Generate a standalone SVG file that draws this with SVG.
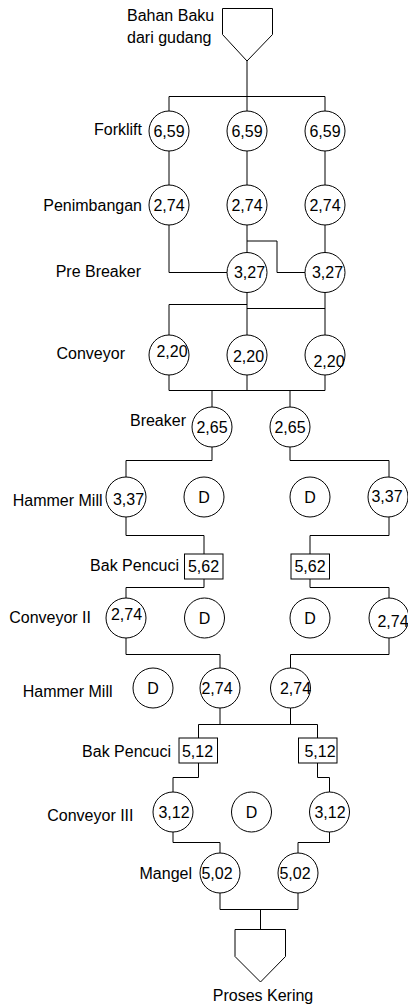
<svg xmlns="http://www.w3.org/2000/svg" width="408" height="1005" viewBox="0 0 408 1005">
  <style>
    .lbl { font-family: "Liberation Sans", Arial, sans-serif; font-size: 16px; fill: #000; }
    .num { font-family: "Liberation Sans", Arial, sans-serif; font-size: 16px; fill: #000; text-anchor: middle; }
    .end { text-anchor: end; }
    .mid { text-anchor: middle; }
    .shape { fill: #fff; stroke: #000; stroke-width: 1; }
    .wire { fill: none; stroke: #000; stroke-width: 1; }
  </style>
  <rect width="408" height="1005" fill="#fff"/>

  <!-- connectors -->
  <g id="connectors" class="wire">
    <!-- source to forklifts -->
    <path d="M247 61 V96.5 M169 96.5 H325 M169 96.5 V111 M247 96.5 V111 M325 96.5 V111"/>
    <!-- forklift to penimbangan -->
    <path d="M169 151 V185 M247 151 V185 M325 151 V185"/>
    <!-- penimbangan to pre breaker -->
    <path d="M169 225 V272.5 H227"/>
    <path d="M247 225 V252.5"/>
    <path d="M247 241 H277 V272.5 H305"/>
    <path d="M325 225 V252.5"/>
    <!-- pre breaker to conveyor -->
    <path d="M247 292.5 V335 M169 304.5 H247 M169 304.5 V335"/>
    <path d="M325 292.5 V335 M247 308.5 H325"/>
    <!-- conveyor to breaker -->
    <path d="M169 375 V390.5 H325 V375 M247 375 V390.5 M212 390.5 V407 M290 390.5 V407"/>
    <!-- breaker to hammer mill -->
    <path d="M212 447 V460.5 H126 V477"/>
    <path d="M290 447 V460.5 H389 V477"/>
    <!-- hammer mill to bak pencuci -->
    <path d="M126 517 V535.5 H204 V554"/>
    <path d="M389 517 V535.5 H310 V554"/>
    <!-- bak pencuci to conveyor II -->
    <path d="M204 579 V587.5 H126 V598"/>
    <path d="M310 579 V587.5 H389 V598"/>
    <!-- conveyor II to hammer mill -->
    <path d="M126 638 V654.5 H220 V668"/>
    <path d="M389 638 V654.5 H290.5 V668"/>
    <!-- hammer mill to bak pencuci -->
    <path d="M220 708 V724.5 M290.5 708 V724.5 M198.5 724.5 H317.5 M198.5 724.5 V738 M317.5 724.5 V738"/>
    <!-- bak pencuci to conveyor III -->
    <path d="M198.5 763 V777.5 H173 V792"/>
    <path d="M317.5 763 V777.5 H329.5 V792"/>
    <!-- conveyor III to mangel -->
    <path d="M173 832 V842.5 H220 V853"/>
    <path d="M329.5 832 V842.5 H298 V853"/>
    <!-- mangel to output -->
    <path d="M220 893 V909.5 H298 V893 M260.5 909.5 V929.5"/>
  </g>

  <!-- source and sink -->
  <g id="bahan-baku">
    <polygon class="shape" points="222.5,8.5 272.5,8.5 272.5,34.5 247,61 222.5,34.5"/>
    <text class="lbl" x="127" y="21">Bahan Baku</text>
    <text class="lbl" x="127" y="42.5">dari gudang</text>
  </g>
  <g id="proses-kering">
    <polygon class="shape" points="235,929.5 285.5,929.5 285.5,956.5 260.5,982 235,956.5"/>
    <text class="lbl mid" x="263" y="1001">Proses Kering</text>
  </g>

  <!-- forklift row -->
  <g id="forklift">
    <text class="lbl end" x="142" y="134.5">Forklift</text>
    <circle class="shape" cx="169" cy="131" r="20"/><text class="num" x="169" y="136.5">6,59</text>
    <circle class="shape" cx="247" cy="131" r="20"/><text class="num" x="247" y="136.5">6,59</text>
    <circle class="shape" cx="325" cy="131" r="20"/><text class="num" x="325" y="136.5">6,59</text>
  </g>

  <!-- penimbangan row -->
  <g id="penimbangan">
    <text class="lbl end" x="142" y="211">Penimbangan</text>
    <circle class="shape" cx="169" cy="205" r="20"/><text class="num" x="169" y="211">2,74</text>
    <circle class="shape" cx="247" cy="205" r="20"/><text class="num" x="247" y="211">2,74</text>
    <circle class="shape" cx="325" cy="205" r="20"/><text class="num" x="325" y="211">2,74</text>
  </g>

  <!-- pre breaker row -->
  <g id="pre-breaker">
    <text class="lbl end" x="141" y="277">Pre Breaker</text>
    <circle class="shape" cx="247" cy="272.5" r="20"/><text class="num" x="249.5" y="277.5">3,27</text>
    <circle class="shape" cx="325" cy="272.5" r="20"/><text class="num" x="327.5" y="277.5">3,27</text>
  </g>

  <!-- conveyor row -->
  <g id="conveyor">
    <text class="lbl end" x="125" y="359">Conveyor</text>
    <circle class="shape" cx="169" cy="355" r="20"/><text class="num" x="172" y="356.5">2,20</text>
    <circle class="shape" cx="247" cy="355" r="20"/><text class="num" x="248.5" y="362">2,20</text>
    <circle class="shape" cx="325" cy="355" r="20"/><text class="num" x="329" y="366.5">2,20</text>
  </g>

  <!-- breaker row -->
  <g id="breaker">
    <text class="lbl end" x="186" y="426">Breaker</text>
    <circle class="shape" cx="212" cy="427" r="20"/><text class="num" x="212" y="433">2,65</text>
    <circle class="shape" cx="290" cy="427" r="20"/><text class="num" x="290" y="433">2,65</text>
  </g>

  <!-- hammer mill row -->
  <g id="hammer-mill-1">
    <text class="lbl end" x="102.5" y="506">Hammer Mill</text>
    <circle class="shape" cx="126" cy="497" r="20"/><text class="num" x="128.5" y="505">3,37</text>
    <circle class="shape" cx="204" cy="497" r="20"/><text class="num" x="204" y="503">D</text>
    <circle class="shape" cx="310" cy="497" r="20"/><text class="num" x="310" y="503">D</text>
    <circle class="shape" cx="388" cy="497" r="20"/><text class="num" x="387" y="502">3,37</text>
  </g>

  <!-- bak pencuci row -->
  <g id="bak-pencuci-1">
    <text class="lbl end" x="179" y="571">Bak Pencuci</text>
    <rect class="shape" x="184.5" y="554" width="38.5" height="25"/><text class="num" x="203.5" y="571.5">5,62</text>
    <rect class="shape" x="291" y="554" width="38.5" height="25"/><text class="num" x="310" y="571.5">5,62</text>
  </g>

  <!-- conveyor II row -->
  <g id="conveyor-2">
    <text class="lbl end" x="91" y="622.5">Conveyor II</text>
    <circle class="shape" cx="126" cy="618" r="20"/><text class="num" x="126.5" y="620">2,74</text>
    <circle class="shape" cx="204.5" cy="618" r="20"/><text class="num" x="204.5" y="624">D</text>
    <circle class="shape" cx="310" cy="618" r="20"/><text class="num" x="310" y="624">D</text>
    <circle class="shape" cx="389" cy="618" r="20"/><text class="num" x="393" y="627">2,74</text>
  </g>

  <!-- hammer mill row II -->
  <g id="hammer-mill-2">
    <text class="lbl end" x="112.5" y="697">Hammer Mill</text>
    <circle class="shape" cx="153" cy="688" r="20"/><text class="num" x="153" y="694">D</text>
    <circle class="shape" cx="220" cy="688" r="20"/><text class="num" x="217" y="694">2,74</text>
    <circle class="shape" cx="290.5" cy="688" r="20"/><text class="num" x="295.5" y="694">2,74</text>
  </g>

  <!-- bak pencuci row II -->
  <g id="bak-pencuci-2">
    <text class="lbl end" x="171" y="756.5">Bak Pencuci</text>
    <rect class="shape" x="179" y="738" width="38.5" height="25"/><text class="num" x="197.5" y="757">5,12</text>
    <rect class="shape" x="298.5" y="738" width="38.5" height="25"/><text class="num" x="320" y="757">5,12</text>
  </g>

  <!-- conveyor III row -->
  <g id="conveyor-3">
    <text class="lbl end" x="133.5" y="821">Conveyor III</text>
    <circle class="shape" cx="173" cy="812" r="20"/><text class="num" x="174" y="818">3,12</text>
    <circle class="shape" cx="251.5" cy="812" r="20"/><text class="num" x="251.5" y="818">D</text>
    <circle class="shape" cx="329.5" cy="812" r="20"/><text class="num" x="330" y="818">3,12</text>
  </g>

  <!-- mangel row -->
  <g id="mangel">
    <text class="lbl end" x="192" y="879">Mangel</text>
    <circle class="shape" cx="220" cy="873" r="20"/><text class="num" x="217" y="879">5,02</text>
    <circle class="shape" cx="298" cy="873" r="20"/><text class="num" x="295" y="879">5,02</text>
  </g>
</svg>
